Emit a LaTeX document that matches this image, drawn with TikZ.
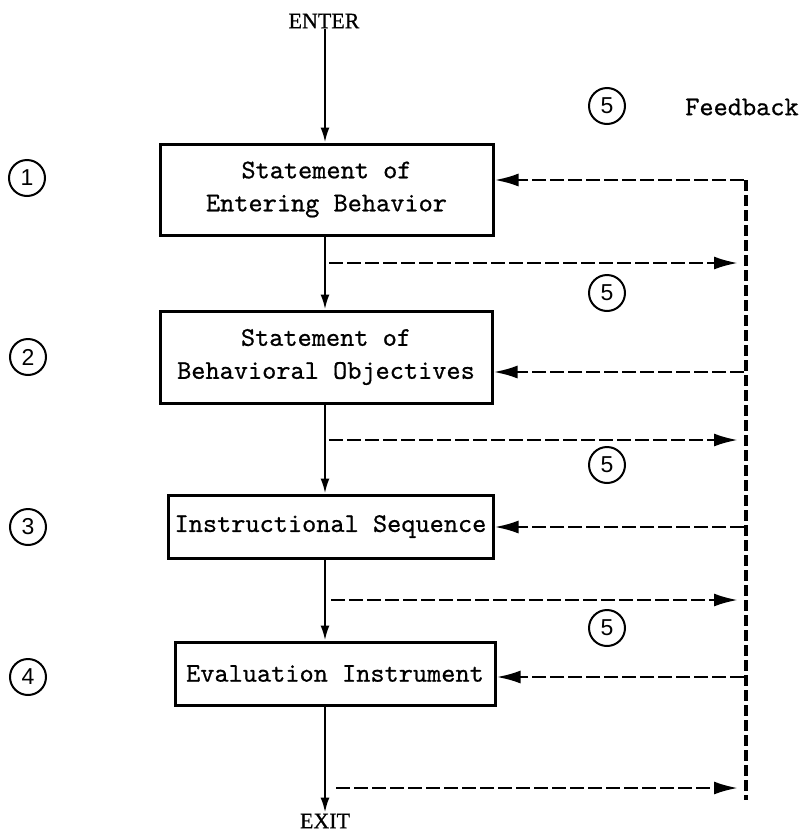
\documentclass[tikz,border=0pt]{standalone}
\usepackage{fontspec}
\setmainfont{Liberation Serif}
\newfontfamily\tw{lmmono10-regular.otf}[FakeBold=0.7]
\newfontfamily\termfont{Liberation Serif}[FakeBold=0.6]
\newfontfamily\circfont{Liberation Sans}
\usetikzlibrary{arrows.meta}
\tikzset{
  box/.style={draw, line width=3pt, align=center, inner sep=0pt,
    font=\tw\fontsize{27}{33}\selectfont},
  flow/.style={line width=2.2pt, -{Latex[length=15pt,width=9pt]}},
  fb/.style={line width=2.7pt, dash pattern=on 14pt off 4pt, -{Latex[length=24pt,width=13pt]}},
  fbline/.style={line width=3.2pt, dash pattern=on 11pt off 4pt},
  circnum/.style={draw, circle, line width=2pt, minimum size=36pt, inner sep=0pt,
    font=\circfont\fontsize{23}{23}\selectfont},
  term/.style={font=\termfont\fontsize{22}{22}\selectfont, inner sep=1pt},
  lbl/.style={font=\tw\fontsize{27}{30}\selectfont, inner sep=0pt}
}
\begin{document}
\begin{tikzpicture}[x=1pt,y=-1pt]
\useasboundingbox (0,0) rectangle (806,833);
% flow column
\node[term] (enter) at (324,21) {ENTER};
\node[box, minimum width=333pt, minimum height=91pt] (b1) at (326.5,189.5)
  {\fontsize{27}{40}\selectfont Statement of\\Entering Behavior};
\node[box, minimum width=332pt, minimum height=92pt] (b2) at (326,357)
  {\fontsize{27}{30}\selectfont Statement of\\Behavioral Objectives};
\node[box, minimum width=325pt, minimum height=63pt] (b3) at (330.5,526.5) {Instructional Sequence};
\node[box, minimum width=320pt, minimum height=63pt] (b4) at (335,673.5) {Evaluation Instrument};
\node[term] (exit) at (325,821) {EXIT};
\draw[flow] (enter.south -| 325,0) -- (b1.north -| 325,0);
\draw[flow] (b1.south -| 325,0) -- (b2.north -| 325,0);
\draw[flow] (b2.south -| 325,0) -- (b3.north -| 325,0);
\draw[flow] (b3.south -| 325,0) -- (b4.north -| 325,0);
\draw[flow] (b4.south -| 325,0) -- (exit.north -| 325,0);
% left numbers
\node[circnum] (n1) at (27,178) {1};
\node[circnum] (n2) at (28,357) {2};
\node[circnum] (n3) at (28,527) {3};
\node[circnum] (n4) at (28,677) {4};
% feedback
\node[circnum] (f0) at (607,106) {5};
\node[lbl] (fbtext) at (742,107) {Feedback};
\node[circnum] (f1) at (607,293) {5};
\node[circnum] (f2) at (607,465) {5};
\node[circnum] (f3) at (607,628) {5};
\coordinate (vtop) at (746,180);
\coordinate (vbot) at (746,800);
\draw[fbline] (vtop) -- (vbot);
% returning arrows
\coordinate (l1) at (744,180);
\coordinate (l2) at (744,372);
\coordinate (l3) at (744,527);
\coordinate (l4) at (744,677);
\draw[fb] (l1) -- (l1 -| b1.east);
\draw[fb] (l2) -- (l2 -| b2.east);
\draw[fb] (l3) -- (l3 -| b3.east);
\draw[fb] (l4) -- (l4 -| b4.east);
% outgoing arrows
\coordinate (r1s) at (329,263); \coordinate (r1e) at (738,263);
\coordinate (r2s) at (329,440); \coordinate (r2e) at (738,440);
\coordinate (r3s) at (331,600); \coordinate (r3e) at (738,600);
\coordinate (r4s) at (336,788); \coordinate (r4e) at (738,788);
\draw[fb] (r1s) -- (r1e);
\draw[fb] (r2s) -- (r2e);
\draw[fb] (r3s) -- (r3e);
\draw[fb] (r4s) -- (r4e);
\end{tikzpicture}
\end{document}
